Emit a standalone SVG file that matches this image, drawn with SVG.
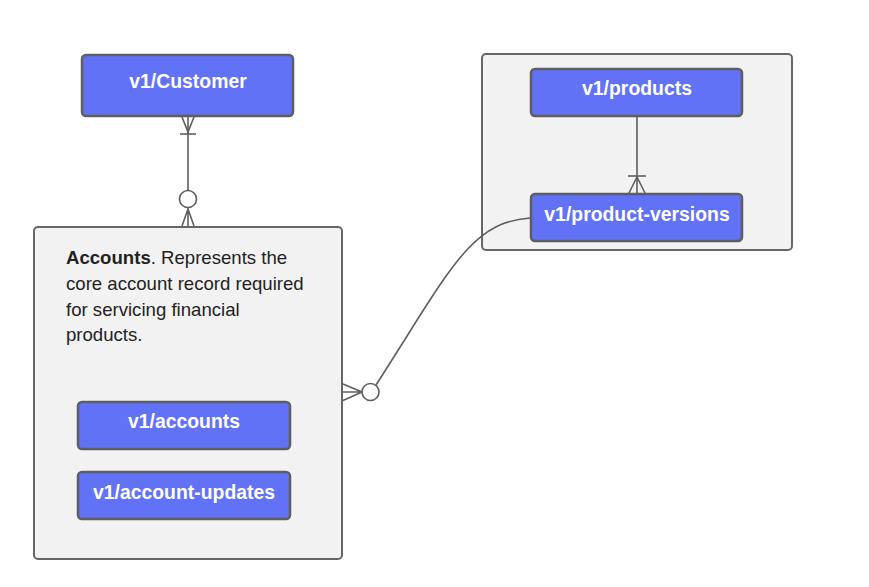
<svg xmlns="http://www.w3.org/2000/svg" width="869" height="587" viewBox="0 0 869 587">
<style>
.container{fill:#f2f2f2;stroke:#666;stroke-width:2}
.entity{fill:#6272f6;stroke:#5e5e5e;stroke-width:2.5}
.label{font-family:"Liberation Sans",Arial,sans-serif;font-size:19.4px;font-weight:bold;fill:#fff;text-anchor:middle}
.body{font-family:"Liberation Sans",Arial,sans-serif;font-size:18.6px;fill:#222}
.conn{fill:none;stroke:#5e5e5e;stroke-width:1.6}
.circ{fill:#fff;stroke:#5e5e5e;stroke-width:1.6}
</style>
<rect width="869" height="587" fill="#fff"/>
<g id="accounts-container">
<rect class="container" x="34" y="227" width="308" height="332" rx="4"/>
<text class="body" x="66" y="264"><tspan font-weight="bold">Accounts</tspan>. Represents the</text>
<text class="body" x="66" y="290">core account record required</text>
<text class="body" x="66" y="315.5">for servicing financial</text>
<text class="body" x="66" y="341">products.</text>
</g>
<g id="products-container">
<rect class="container" x="482" y="54" width="310" height="196" rx="4"/>
</g>
<g id="customer">
<rect class="entity" x="82" y="55" width="211" height="61" rx="4"/>
<text class="label" x="188" y="88">v1/Customer</text>
</g>
<g id="accounts">
<rect class="entity" x="78" y="402" width="212" height="47" rx="4"/>
<text class="label" x="184" y="428">v1/accounts</text>
</g>
<g id="account-updates">
<rect class="entity" x="78" y="472" width="212" height="47" rx="4"/>
<text class="label" x="184" y="499">v1/account-updates</text>
</g>
<g id="products">
<rect class="entity" x="531" y="69" width="211" height="47" rx="4"/>
<text class="label" x="637" y="95">v1/products</text>
</g>
<g id="product-versions">
<rect class="entity" x="531" y="194" width="211" height="47" rx="4"/>
<text class="label" x="637" y="221">v1/product-versions</text>
</g>
<g id="connectors">
<path class="conn" d="M188 117 L188 190"/>
<path class="conn" d="M182 117 L188 132 L194 117"/>
<path class="conn" d="M180 134 L196 134"/>
<circle class="circ" cx="188" cy="199" r="8.5"/>
<path class="conn" d="M188 207.5 L188 226 M188 209 L182 226 M188 209 L194 226"/>
<path class="conn" d="M637 117 L637 193"/>
<path class="conn" d="M628 176 L646 176"/>
<path class="conn" d="M637 177 L629 193 M637 177 L645 193"/>
<path class="conn" d="M530 218 C470 222 450 270 376 385"/>
<circle class="circ" cx="370.5" cy="392" r="8.5"/>
<path class="conn" d="M343 392 L362 392 M343 384 L362 392 M343 400.5 L362 392"/>
</g>
</svg>
